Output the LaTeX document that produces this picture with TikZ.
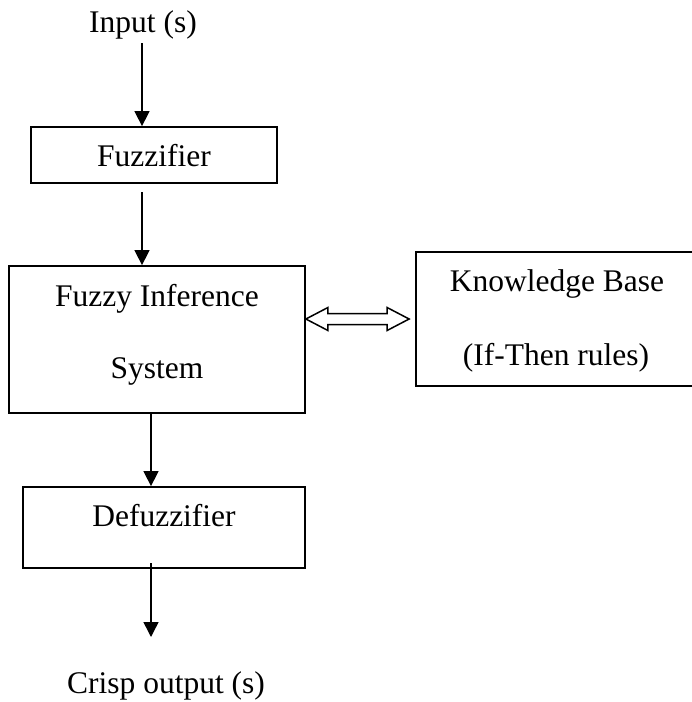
\documentclass[tikz,border=0pt]{standalone}
\usepackage{fontspec}
\setmainfont{Liberation Serif}
\usetikzlibrary{arrows.meta,calc}
\begin{document}
\begin{tikzpicture}[x=1pt,y=-1pt,
  box/.style={draw, line width=1.8pt, inner sep=0pt},
  txt/.style={anchor=base, inner sep=0pt, font=\fontsize{31.5}{38}\selectfont},
  flow/.style={line width=1.5pt, -{Triangle[width=15pt,length=15pt]}}]
\useasboundingbox (0,0) rectangle (692,702);
\clip (0,0) rectangle (692,702);
% boxes
\node[box, minimum width=246pt, minimum height=56pt] (fuz) at (154,155) {};
\node[box, minimum width=296pt, minimum height=147pt] (fis) at (157,339.5) {};
\node[box, minimum width=314pt, minimum height=134pt] (kb) at (573,319) {};
\node[box, minimum width=282pt, minimum height=81pt] (def) at (164,527.5) {};
% texts
\node[txt] (tin) at (143,32) {Input (s)};
\node[txt] (tfuz) at (154,166) {Fuzzifier};
\node[txt] (tfis1) at (157,306) {Fuzzy Inference};
\node[txt] (tfis2) at (157,378) {System};
\node[txt] (tkb1) at (557,291) {Knowledge Base};
\node[txt] (tkb2) at (556,365) {(If-Then rules)};
\node[txt] (tdef) at (164,526) {Defuzzifier};
\node[txt] (tout) at (166,693) {Crisp output (s)};
% flow arrows
\coordinate (a0) at (142,43);
\coordinate (a1) at (142,192);
\coordinate (c2) at (151,0);
\coordinate (a3) at (151,563);
\coordinate (a4) at (151,637);
\draw[flow] (a0) -- (a0 |- fuz.north);
\draw[flow] (a1) -- (a1 |- fis.north);
\draw[flow] (c2 |- fis.south) -- (c2 |- def.north);
\draw[flow] (a3) -- (a4);
% double hollow arrow between FIS and KB
\coordinate (L) at (fis.east |- kb.west);
\coordinate (R) at ($(kb.west)+(-6,0)$);
\draw[line width=1.5pt, line join=miter, fill=white]
  (L) -- ($(L)+(22,-11.5)$) -- ($(L)+(22,-5.5)$) -- ($(R)+(-22,-5.5)$) -- ($(R)+(-22,-11.5)$)
  -- (R) -- ($(R)+(-22,11.5)$) -- ($(R)+(-22,5.5)$) -- ($(L)+(22,5.5)$) -- ($(L)+(22,11.5)$) -- cycle;
\end{tikzpicture}
\end{document}
